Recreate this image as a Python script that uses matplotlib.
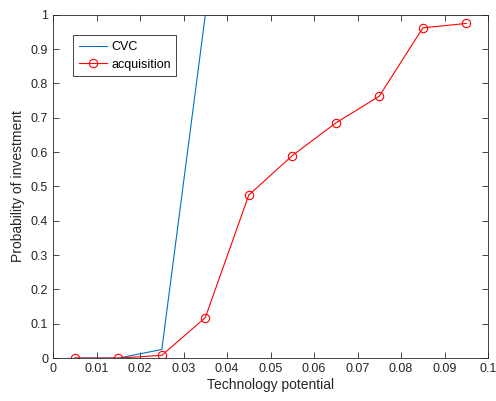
import numpy as np
import matplotlib
matplotlib.use("Agg")
import matplotlib.pyplot as plt

plt.rcParams['font.family'] = ['Liberation Sans', 'DejaVu Sans']

tech = [0.005, 0.015, 0.025, 0.035, 0.045, 0.055, 0.065, 0.075, 0.085, 0.095]
cvc = [0.0, 0.0, 0.025, 1.0, 1.0, 1.0, 1.0, 1.0, 1.0, 1.0]
acq = [0.0, 0.0, 0.008, 0.118, 0.475, 0.59, 0.685, 0.763, 0.962, 0.975]

fig = plt.figure(figsize=(4.96, 4.01), dpi=100)
ax = fig.add_axes([0.107, 0.107, 0.877, 0.856])

ax.plot(tech, cvc, color='#0072BD', lw=0.8, label='CVC')
ax.plot(tech, acq, color='red', lw=0.8, marker='o', ms=6, mfc='none', mew=0.8,
        label='acquisition')

ax.set_xlim(0, 0.1)
ax.set_ylim(0, 1)
ax.set_xticks(np.arange(0, 0.101, 0.01))
ax.set_xticklabels(['0', '0.01', '0.02', '0.03', '0.04', '0.05', '0.06', '0.07', '0.08', '0.09', '0.1'])
ax.set_yticks(np.arange(0, 1.01, 0.1))
ax.set_yticklabels(['0', '0.1', '0.2', '0.3', '0.4', '0.5', '0.6', '0.7', '0.8', '0.9', '1'])
ax.tick_params(direction='in', top=True, right=True, labelsize=9, length=4, width=0.6,
               colors='#262626')
for s in ax.spines.values():
    s.set_linewidth(0.6)
    s.set_color('#262626')

ax.set_xlabel('Technology potential', fontsize=10, color='#262626', labelpad=2)
ax.set_ylabel('Probability of investment', fontsize=10, color='#262626', labelpad=4)

leg = ax.legend(loc='upper left', bbox_to_anchor=(0.046, 0.94), fontsize=9, fancybox=False,
                edgecolor='#262626', framealpha=1, borderpad=0.45, handlelength=2.3,
                handletextpad=0.3, labelspacing=0.45, borderaxespad=0)
leg.get_frame().set_linewidth(0.6)

fig.savefig('out.png', dpi=100)
